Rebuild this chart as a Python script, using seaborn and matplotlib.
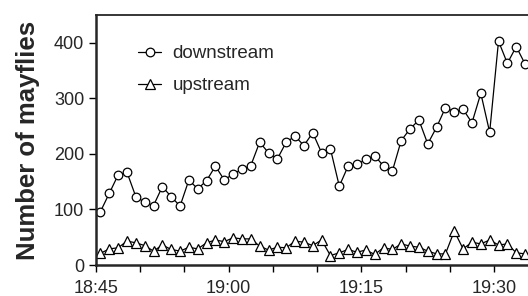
import seaborn as sns
import pandas as pd
import matplotlib.pyplot as plt
import matplotlib.dates as mdates
import numpy as np

# counts, one sample per minute starting 18:45:30
downstream = [96, 129, 162, 167, 123, 113, 107, 141, 123, 106,
              153, 137, 152, 178, 153, 164, 172, 179, 221, 202,
              191, 221, 232, 215, 238, 202, 209, 142, 178, 181,
              190, 197, 178, 169, 224, 245, 261, 218, 248, 283,
              276, 280, 256, 309, 239, 403, 363, 393, 362]
upstream = [21, 29, 31, 43, 40, 35, 25, 36, 28, 25,
            32, 29, 40, 45, 42, 49, 47, 47, 34, 27,
            32, 31, 43, 41, 35, 45, 17, 22, 28, 23,
            27, 19, 31, 28, 38, 34, 32, 25, 20, 20,
            61, 29, 41, 38, 45, 36, 38, 22, 20]
times = pd.date_range("2000-01-01 18:45:30", periods=len(downstream), freq="1min")

df = pd.DataFrame({"time": times, "downstream": downstream, "upstream": upstream})

sns.set_style("ticks")
plt.rcParams['font.family'] = ['Liberation Sans', 'DejaVu Sans']

fig = plt.figure(figsize=(5.28, 2.96), dpi=100)
ax = fig.add_axes([96 / 528, 1 - 265 / 296, 1 - 96 / 528, 250 / 296])

sns.lineplot(data=df, x="time", y="downstream", ax=ax, color="black", lw=0.9,
             marker="o", markersize=6.2, markerfacecolor="white",
             markeredgecolor="black", markeredgewidth=0.9, label="downstream")
sns.lineplot(data=df, x="time", y="upstream", ax=ax, color="black", lw=0.9,
             marker="^", markersize=7, markerfacecolor="white",
             markeredgecolor="black", markeredgewidth=0.9, label="upstream")

ax.set_ylim(0, 450)
ax.set_yticks([0, 100, 200, 300, 400])
ax.set_xlim(pd.Timestamp("2000-01-01 18:45"), pd.Timestamp("2000-01-01 19:33:50"))
ax.xaxis.set_major_locator(mdates.MinuteLocator(byminute=[0, 15, 30, 45]))
ax.xaxis.set_minor_locator(mdates.MinuteLocator(byminute=range(0, 60, 5)))
ax.xaxis.set_major_formatter(mdates.DateFormatter("%H:%M"))

ax.set_xlabel("")
ax.set_ylabel("Number of mayflies", fontsize=18.5, fontweight="bold", labelpad=10)
ax.tick_params(axis="both", which="both", labelsize=13, length=5, width=1, color="black")
ax.tick_params(axis="x", pad=6)

for side in ["left", "bottom"]:
    ax.spines[side].set_linewidth(1.8)
ax.spines["top"].set_linewidth(1.3)
ax.spines["right"].set_visible(False)

ax.legend(loc="upper left", bbox_to_anchor=(0.097, 0.88), frameon=False,
          fontsize=13.5, handlelength=1.25, handletextpad=0.6,
          labelspacing=0.8, borderpad=0, borderaxespad=0)

fig.savefig("out.png", dpi=100)
